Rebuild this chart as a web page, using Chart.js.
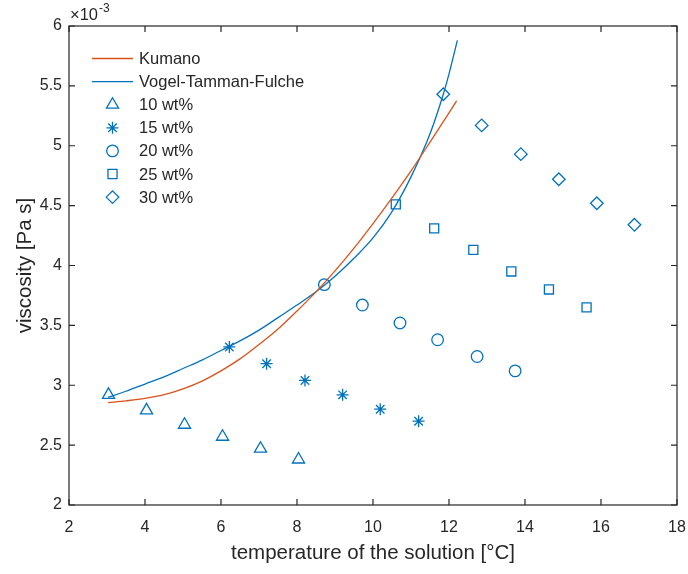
<!DOCTYPE html>
<html>
<head>
<meta charset="utf-8">
<script src="https://cdn.jsdelivr.net/npm/chart.js@4"></script>
<style>
  html, body { margin: 0; padding: 0; background: #fff; }
  #wrap { width: 688px; height: 574px; }
</style>
</head>
<body>
<div id="wrap"><canvas id="viscChart" width="688" height="574"></canvas></div>
<script>
// fitted curves (temperature in degC, viscosity in 1e-3 Pa s)
const tempKumano = [3.03, 3.5, 4.0, 4.5, 5.0, 5.5, 6.0, 6.5, 7.0, 7.5, 8.0, 8.5, 9.0, 9.5, 10.0, 10.5, 11.0, 11.5, 12.0, 12.2];
const viscKumano = [2.855, 2.87, 2.89, 2.921, 2.97, 3.035, 3.12, 3.22, 3.34, 3.47, 3.62, 3.78, 3.955, 4.145, 4.35, 4.565, 4.79, 5.03, 5.275, 5.375];

const tempVTF = [3.03, 3.5, 4.0, 4.5, 5.0, 5.5, 6.0, 6.5, 7.0, 7.5, 8.0, 8.5, 9.0, 9.5, 10.0, 10.5, 11.0, 11.5, 11.85, 12.0, 12.22];
const viscVTF = [2.90, 2.95, 3.01, 3.07, 3.14, 3.21, 3.29, 3.37, 3.46, 3.565, 3.67, 3.78, 3.91, 4.06, 4.23, 4.45, 4.74, 5.10, 5.43, 5.60, 5.88];

// measurements per concentration
const temp10 = [3.04, 4.04, 5.04, 6.04, 7.04, 8.04];
const visc10 = [2.92, 2.79, 2.67, 2.57, 2.47, 2.38];
const temp15 = [6.22, 7.20, 8.21, 9.20, 10.19, 11.20];
const visc15 = [3.32, 3.18, 3.04, 2.92, 2.80, 2.70];
const temp20 = [8.72, 9.72, 10.71, 11.70, 12.74, 13.74];
const visc20 = [3.84, 3.67, 3.52, 3.38, 3.24, 3.12];
const temp25 = [10.60, 11.61, 12.64, 13.64, 14.63, 15.62];
const visc25 = [4.51, 4.31, 4.13, 3.95, 3.80, 3.65];
const temp30 = [11.85, 12.86, 13.89, 14.89, 15.89, 16.88];
const visc30 = [5.43, 5.17, 4.93, 4.72, 4.52, 4.34];

const xTicks = [2, 4, 6, 8, 10, 12, 14, 16, 18];
const yTicks = [2, 2.5, 3, 3.5, 4, 4.5, 5, 5.5, 6];

const BLUE = '#0072BD';
const ORANGE = '#D95319';
const AXIS = '#262626';
const FONT = "'Liberation Sans', Arial, sans-serif";

const toPoints = (xs, ys) => xs.map((x, i) => ({ x, y: ys[i] }));

function lineSet(label, xs, ys, color) {
    return {
        label,
        data: toPoints(xs, ys),
        showLine: true,
        borderColor: color,
        borderWidth: 1.3,
        pointRadius: 0,
        cubicInterpolationMode: 'monotone',
        fill: false
    };
}

function markerSet(label, xs, ys, style, radius) {
    return {
        label,
        data: toPoints(xs, ys),
        showLine: false,
        pointStyle: style,
        pointRadius: radius,
        borderColor: BLUE,
        backgroundColor: 'rgba(0,0,0,0)',
        pointBorderWidth: 1.3
    };
}

// MATLAB-style box with inward ticks on all four sides
const boxPlugin = {
    id: 'box',
    afterDraw(chart) {
        const { ctx, chartArea: a, scales: { x, y } } = chart;
        ctx.save();
        ctx.strokeStyle = AXIS;
        ctx.lineWidth = 1.2;
        ctx.strokeRect(a.left, a.top, a.right - a.left, a.bottom - a.top);
        const len = 6;
        ctx.beginPath();
        xTicks.forEach(v => {
            const px = x.getPixelForValue(v);
            ctx.moveTo(px, a.bottom); ctx.lineTo(px, a.bottom - len);
            ctx.moveTo(px, a.top); ctx.lineTo(px, a.top + len);
        });
        yTicks.forEach(v => {
            const py = y.getPixelForValue(v);
            ctx.moveTo(a.left, py); ctx.lineTo(a.left + len, py);
            ctx.moveTo(a.right, py); ctx.lineTo(a.right - len, py);
        });
        ctx.stroke();

        // exponent label
        ctx.fillStyle = AXIS;
        ctx.textBaseline = 'alphabetic';
        ctx.textAlign = 'left';
        ctx.font = '16.5px ' + FONT;
        ctx.fillText('\u00d710', a.left + 1, 20);
        const w = ctx.measureText('\u00d710').width;
        ctx.font = '12px ' + FONT;
        ctx.fillText('-3', a.left + 2 + w, 12);
        ctx.restore();
    }
};

// legend without box, drawn inside the axes
const legendPlugin = {
    id: 'boxlessLegend',
    afterDraw(chart) {
        const { ctx } = chart;
        const x0 = 92, x1 = 133, tx = 139, top = 58.5, step = 23.1;
        ctx.save();
        ctx.font = '16.5px ' + FONT;
        ctx.textBaseline = 'middle';
        ctx.textAlign = 'left';
        chart.data.datasets.forEach((ds, i) => {
            const yy = top + i * step;
            ctx.strokeStyle = ds.borderColor;
            ctx.lineWidth = 1.3;
            if (ds.showLine) {
                ctx.beginPath();
                ctx.moveTo(x0, yy); ctx.lineTo(x1, yy);
                ctx.stroke();
            } else {
                ctx.fillStyle = 'rgba(0,0,0,0)';
                Chart.helpers.drawPoint(ctx, {
                    pointStyle: ds.pointStyle,
                    radius: ds.pointRadius,
                    rotation: 0,
                    borderWidth: 1.3
                }, (x0 + x1) / 2, yy);
            }
            ctx.fillStyle = AXIS;
            ctx.fillText(ds.label, tx, yy + 1);
        });
        ctx.restore();
    }
};

const ctx = document.getElementById('viscChart').getContext('2d');

new Chart(ctx, {
    type: 'scatter',
    data: {
        datasets: [
            lineSet('Kumano', tempKumano, viscKumano, ORANGE),
            lineSet('Vogel-Tamman-Fulche', tempVTF, viscVTF, BLUE),
            markerSet('10 wt%', temp10, visc10, 'triangle', 7),
            markerSet('15 wt%', temp15, visc15, 'star', 6),
            markerSet('20 wt%', temp20, visc20, 'circle', 5.8),
            markerSet('25 wt%', temp25, visc25, 'rect', 6.4),
            markerSet('30 wt%', temp30, visc30, 'rectRot', 6.3)
        ]
    },
    options: {
        responsive: false,
        animation: false,
        layout: { padding: { top: 26, right: 0, left: 0, bottom: 0 } },
        plugins: {
            legend: { display: false },
            tooltip: { enabled: false }
        },
        scales: {
            x: {
                type: 'linear',
                min: 2,
                max: 18,
                afterFit: s => { s.height = 69; s.paddingLeft = 0; s.paddingRight = 11; },
                afterBuildTicks: s => { s.ticks = xTicks.map(v => ({ value: v })); },
                grid: { display: false, tickLength: 0 },
                border: { display: false },
                ticks: {
                    color: AXIS,
                    font: { family: FONT, size: 16 },
                    padding: 13,
                    maxRotation: 0,
                    autoSkip: false,
                    callback: v => String(v)
                },
                title: {
                    display: true,
                    text: 'temperature of the solution [°C]',
                    color: AXIS,
                    font: { family: FONT, size: 20.5 },
                    padding: { top: 0, bottom: 8 }
                }
            },
            y: {
                type: 'linear',
                min: 2,
                max: 6,
                afterFit: s => { s.width = 69; },
                afterBuildTicks: s => { s.ticks = yTicks.map(v => ({ value: v })); },
                grid: { display: false, tickLength: 0 },
                border: { display: false },
                ticks: {
                    color: AXIS,
                    font: { family: FONT, size: 16 },
                    padding: 7,
                    callback: v => String(v)
                },
                title: {
                    display: true,
                    text: 'viscosity [Pa s]',
                    color: AXIS,
                    font: { family: FONT, size: 20.5 },
                    padding: { top: 13, bottom: 0 }
                }
            }
        }
    },
    plugins: [boxPlugin, legendPlugin]
});
</script>
</body>
</html>
